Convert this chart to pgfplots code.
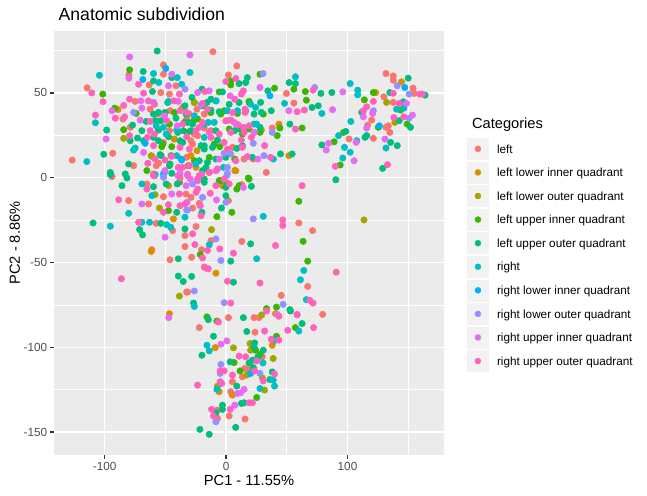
\documentclass[border=0pt]{standalone}
\usepackage{fontspec}
\setmainfont{Liberation Sans}
\usepackage{pgfplots}
\pgfplotsset{compat=1.18}
\definecolor{cA}{HTML}{F8766D}
\definecolor{cB}{HTML}{D89000}
\definecolor{cC}{HTML}{A3A500}
\definecolor{cD}{HTML}{39B600}
\definecolor{cE}{HTML}{00BF7D}
\definecolor{cF}{HTML}{00BFC4}
\definecolor{cG}{HTML}{00B0F6}
\definecolor{cH}{HTML}{9590FF}
\definecolor{cI}{HTML}{E76BF3}
\definecolor{cJ}{HTML}{FF62BC}
\definecolor{ggbg}{HTML}{EBEBEB}
\definecolor{ggkey}{HTML}{F2F2F2}
\definecolor{grey30}{HTML}{4D4D4D}
\definecolor{grey20}{HTML}{333333}
\begin{document}
\begin{tikzpicture}
\path[use as bounding box] (0,0) rectangle (485.25pt,372pt);
\begin{axis}[
  at={(40.5pt,30.75pt)}, anchor=south west,
  scale only axis, width=292.5pt, height=318pt,
  xmin=-141.8, xmax=179.5, ymin=-163.5, ymax=86.5,
  axis background/.style={fill=ggbg},
  axis line style={draw=none},
  tick pos=left, tick align=outside,
  xtick={-100,0,100}, xticklabels={-100,0,100},
  ytick={-150,-100,-50,0,50}, yticklabels={-150,-100,-50,0,50},
  minor xtick={-50,50,150}, minor ytick={-125,-75,-25,25,75},
  grid=both,
  major grid style={white, line width=1.07pt},
  minor grid style={white, line width=0.53pt},
  major tick length=2.75pt, minor tick length=0pt,
  tick style={grey20, line width=1.07pt},
  xticklabel style={font=\fontsize{8.8}{10}\selectfont, text=grey30, inner sep=0pt},
  yticklabel style={font=\fontsize{8.8}{10}\selectfont, text=grey30, inner sep=0pt},
  xticklabel shift=2.2pt, yticklabel shift=2.2pt,
  only marks,
  every axis plot/.append style={mark=*, mark size=2.4pt, mark options={draw=none}},
  legend cell align=left,
  legend style={at={(axis description cs:1.0568,0.7498)}, anchor=north west,
    draw=none, fill=none, inner sep=0pt, outer sep=0pt, row sep=0pt, column sep=5.5pt,
    font=\fontsize{8.8}{10}\selectfont,
    nodes={inner sep=0pt, text height=6.3pt, text depth=0pt}},
  legend image code/.code={
    \fill[white] (-8.64pt,-8.64pt) rectangle (8.64pt,8.64pt);
    \fill[ggkey] (-7.9pt,-7.9pt) rectangle (7.9pt,7.9pt);
    \fill (0pt,0pt) circle (2.2pt);
  },
]
% left
\addplot[color=cA] coordinates {
(-51.6,66.5)(-80.1,60.6)(-114.5,53)(-126.8,10.4)(-93.4,14.4)(-63.4,54.7)(-51.6,61)(-41.3,54.2)(-53.8,50.2)(-46.7,49.3)(-74.9,45)(-62.6,40.4)(-46.2,39.5)(-85,34.6)(-79,29.7)(-32.5,34.6)(-46.7,27.7)(-51.6,20.8)(-32.5,12)(-76.2,7.1)(-55.7,8.5)(-59.8,2.2)
(-10.9,74.3)(8.8,65.9)(1.9,60.6)(-24,40.4)(-30.3,37.5)(-18,29.3)(-12.5,27.7)(-26.2,25.7)(-23.5,24.8)(22.4,11)(38,29.3)(55.8,44)(49.7,49.7)(-29,21.8)
(119.9,34)(116.6,31)(131.7,61.4)(137.7,60)(137.7,57.5)(130,47.7)(154,52.8)(154.9,49.7)(137.7,44.4)(131.7,29.7)(133.6,30.6)(134.9,26.7)(121.3,23.2)(101.3,22.8)
(-94,0.6)(-80.3,-13.5)(-57.7,-26.9)(-44,-31.2)(-61.2,-42.4)(-46.2,-48.4)(-32.5,-67.4)(-33.9,-34.1)(-33.9,-40.6)(-65.3,-3.7)(-51.6,-11.2)(-33.1,-9.6)(-63.9,-15.5)
(33.1,3.1)(12.9,-4.1)(1.9,-13.5)(-22.1,-15.1)(-28.9,-11.6)(-27.6,-17.9)(59.9,-26.7)(71.3,-31.2)(12.9,-37.6)(-12.5,-37.1)(-20.2,-42.5)(-28.4,-46.9)(-24.8,-28.8)(67.2,-64.1)(45.4,-69.4)(-18,-52.7)(-31.7,-67.4)(-13.9,3.1)
(79.5,-80.6)
(-22.1,-88.4)(1.9,-82.5)(23,-82.5)(27.1,-82.5)(23.8,-91.1)(29.8,-105.6)(15.3,-112.5)(18.1,-113.1)(13.4,-117.4)(5.2,-120.3)(3.8,-126.2)(-7.1,-137)(-7.1,-141.9)(2.5,-140.5)(15.6,-142.3)
(-56.3,37.5)(-18,37.5)(-27.6,19.8)(5.2,17.9)(14.8,11)(-57.6,7.1)(-13.9,3.2)
};
\addlegendentry{left}
% left lower inner quadrant
\addplot[color=cB] coordinates {
(-89.1,40.2)(-42.9,22.8)(43.5,31.6)(51.7,13)(-24.8,6.1)(7.1,4.2)(-24,15.9)(123.2,50.2)(144.5,56.5)(-61.7,-43.5)(-46.7,-80.2)(-47.5,-4.7)(-43.4,-24.3)(-3,-4.7)(-8.4,-56.3)(40.7,-80.2)(38,-98.8)(-9,-100.2)(-5.7,-126.2)(5.2,-128.2)
(-42.6,22.8)(-29,13)(8,4.1)
};
\addlegendentry{left lower inner quadrant}
% left lower outer quadrant
\addplot[color=cC] coordinates {
(-84.4,23.2)(-61.2,12.6)(-26.2,44.4)(29,28.1)(132.2,44.4)(139,32.6)(-38.5,-69.8)(-58.5,-10)(-54.9,-17.9)(-12,-30.6)(113.6,-24.9)(29.3,-80.9)(6,-100.3)(19.7,-97.8)(20.2,-101.7)(38.8,-106.6)(29.8,-118)(17,-116.4)(-7.1,-122.9)(31.7,-125.2)
(-35.8,41.4)(-26.2,44.3)(-61.7,13)
};
\addlegendentry{left lower outer quadrant}
% left upper inner quadrant
\addplot[color=cD] coordinates {
(-79.5,63.6)(-101.6,49.3)(-91.8,41)(-74.1,37.9)(-84.4,28.3)(-53,18.3)(-44.8,18.3)(-31.2,7.1)(-65.3,4.2)
(3.8,57.1)(3.8,54.7)(27.9,61)(39.9,52.8)(18.9,45)(30.6,37.5)(9.3,37.9)(-1.6,39.5)(-5.7,50.6)(-26.8,33.6)(-23.5,34.6)(2.5,28.7)(18.9,28.7)(27.9,26.7)(-5.2,18.3)(7.1,11)(44.3,29.3)(42.1,24.8)(62.6,29.3)(55.8,52.2)(65.3,50.8)(66.1,45.7)(-26.2,10)
(121.3,50.2)(113.9,45.9)(125.4,29.7)(143.7,39.9)(149.1,31.6)(96.7,26.7)(89,21.2)(94,7.5)
(-47.5,-19.4)
(18.3,-0.2)(8.8,-6.7)(-4.9,-1.8)(0.6,-3.3)(4.7,-20.4)(-7.6,-23)(59.9,-13.9)(63.4,-37.5)(-21.3,-45.3)(67.2,-49.2)(33.3,-77.2)(41.5,-76.3)
(-15.8,-82.1)(-7.6,-84.5)(57.1,-88.4)(41.5,-93.5)(24.3,-101.7)(27.9,-104.1)(6.6,-109)(11.5,-113.9)(25.2,-129.6)
(18.9,44.3)(-42.6,38.4)(-12.6,38.4)(-4.4,37.5)(-46.7,31.6)(-34.4,32.6)(-31.7,26.7)(13.4,25.7)(-52.2,19.8)(-9.8,19.8)(-45.3,13)(-13.9,12)(-38.5,-2.7)(-5.7,-1.7)(18.9,-0.8)(10.7,-4.7)
};
\addlegendentry{left upper inner quadrant}
% left upper outer quadrant
\addplot[color=cE] coordinates {
(-56.8,74.7)(-68.3,62.6)(-98.4,28.1)(-100.8,13.8)(-59.8,57.1)(-44.8,59)(-60.7,50.8)(-55.7,38.5)(-59.8,37.5)(-33.9,42.4)(-50.3,38.5)(-77.1,31)(-65.8,33.2)(-58.5,33.6)(-53.8,33.6)(-41.3,35.1)(-69.4,27.7)(-55.7,28.1)(-35.3,27.7)(-79,21.8)(-73,23.4)(-68,21.8)(-59.8,23.8)(-55.7,21.8)(-47.5,24.2)(-38,21.8)(-54.4,13.6)(-80.3,8.1)(-46.2,8.1)(-44.8,2.6)(-95.4,1.8)(-83.1,2.2)
(10.7,55.5)(16.1,56.1)(17.5,59)(34.4,51.2)(28.4,44.4)(37.2,39.5)(29,38.5)(23,37.5)(-5.7,38.9)(-12.5,46.3)(-3,50.6)(-19.9,52.2)(-28.1,47.3)(-15.8,44.4)(-12.5,39.8)(-31.7,32.6)(-8.5,27.7)(-29,27.7)(-7.1,22.2)(6.6,27.7)(10.7,28.7)(27.9,29.7)(13.4,18.9)(8.8,17.3)(44.8,14)(54.4,14)(52.5,31.6)(70.8,41.4)(51.9,56.1)(57.1,55.5)(-19.4,4.2)(-15.3,9.1)(-8.5,11)(-20.7,18.9)(-18,16.9)(-11.2,17.9)
(87.1,50.2)(78.1,49.7)(75.9,42.4)(111.7,38.5)(150,58.7)(134.9,50.2)(163.9,48.7)(145.9,44.7)(142.6,33.6)(151.9,29.7)(135.5,20.8)(141,18.9)(114.4,23.8)(115.8,24.8)(98.6,27.3)(78.9,19.3)(128.9,5.5)
(-95.4,3.1)(-81.7,-0.2)(-85.8,-4.7)(-109.6,-26.7)(-71.3,-30.6)(-68.9,-33.7)(-53.8,-26.9)(-39.4,-47.8)(-39.4,-58)(-35.3,-61.2)(-33.9,-30.2)(-59.8,-5.3)(-40.2,-3.7)(-40.7,-20.4)
(20.8,-5.1)(-0.2,-5.7)(-0.2,-10.6)(-3.8,-17.9)(-19.9,-20.4)(-18,-0.8)(20.2,-39)(3.8,-49.2)(6,-61.6)(-28.4,-58.2)(-26.8,-73.9)(52.5,-77.8)
(90.4,-1.2)
(-14.7,-83.7)(14.2,-82.5)(53,-78.6)(62.6,-86)(17,-90.7)(-10.4,-93.5)(-19.9,-104.7)(23.5,-97.4)(23,-99.8)(30.6,-101.7)(26.2,-105.6)(21.6,-107.6)(18.9,-109.2)(3.3,-108.6)(22.4,-111.9)(36.1,-119)(38,-114.5)(8.8,-122.9)(12.6,-133.1)(14.8,-132.7)(-3,-134.1)(-3,-136.6)(-8.4,-138.6)(-21.6,-148.4)(-13.9,-151.3)(7.9,-147.2)
(-48.1,44.3)(-19.4,42.4)(-8.5,45.3)(2.5,43.3)(10.7,44.3)(-33,37.5)(-27.6,31.6)(-39.9,26.7)(-35.8,20.8)(-18,18.8)(-53.5,13)(-22.1,10)(-0.3,12)(21.6,12)(-46.7,7.1)(-16.6,6.1)(-49.4,-3.7)(-18,-2.7)
};
\addlegendentry{left upper outer quadrant}
% right
\addplot[color=cF] coordinates {
(-104.4,60.4)(-107.7,32.4)(-114.8,9.5)(-59.8,61.4)(-55.5,56.1)(-40.2,59)(-36.6,55.1)(-47.5,45)(-51.6,29.7)(-40.7,28.1)(-74.9,17.5)(-76.2,16.3)(-40.7,13)
(-29.8,62)(20.2,43.4)(9.3,39.5)(1.1,39.5)(-8.2,45.3)(-14.7,32.6)(23,31.6)(25.2,31.6)(-18,23.8)(38.9,11)(48.1,43.8)(57.1,59.5)(-2.2,6.1)
(102.2,55.5)(78.9,37.9)(108.4,51.6)(108.4,48.9)(102.7,33.2)(140.4,40.4)(146.4,41)(131.7,17.5)(107.6,21.8)(92.6,24.8)(97.5,17.9)(102.2,15)(96.1,11.6)
(-80.3,-21)(-95.4,-28.6)(-69.4,-26.3)(-63.1,-26.3)(-48.9,-27.7)(-45.6,-29.2)(-69.4,-3.7)(-61.2,-10.6)(-33.9,-23.3)
(30.6,-22.8)(-13.9,-39.6)(25.2,-47.8)(64,-54.7)(61.2,-60.2)(66.1,-71.9)(-26.2,-75.9)
(59.9,-90.4)(40.7,-95.8)(-15.8,-98.8)(-13.9,-102.1)(30.4,-109.2)(38.8,-119.4)(39.9,-122.9)(-7.6,-124.8)(27.9,-124.3)
(24.3,41.4)(-26.2,36.5)(16.1,39.4)(-57.6,30.6)(-18,31.6)(-9.8,32.6)(-49.4,25.7)(-24.9,8.1)(-59,1.2)(-50.8,3.2)
};
\addlegendentry{right}
% right lower inner quadrant
\addplot[color=cG] coordinates {
(-68.6,57.9)(-49.7,64.4)(-66.7,20.3)(-36.6,10.4)(-51.6,2.2)(-58.5,1.8)(36.1,48.3)(126.2,30.6)(147.2,53.2)(20.2,-115.4)(-37.1,11)
};
\addlegendentry{right lower inner quadrant}
% right lower outer quadrant
\addplot[color=cH] coordinates {
(-33.9,52.2)(-76.2,38.5)(-59.8,44.4)(30.4,61.4)(-20.7,43)(-1.6,14.4)(3.8,14)(31.2,13)(22.4,20.3)(38,26.7)(1.1,2.6)(73,53.2)(121.3,39.5)(141,54.2)(150.8,49.3)(150.8,35.1)(-32.5,-19)(-51.6,0.2)(0.6,1.2)(-19.4,-11.6)(-0.2,-14.5)(-31.7,-19)(22.4,-24.3)(-8.4,-36.1)(-4.3,-48.8)(47,-74.7)(-26.2,-66.8)(-1.6,-73.7)(-4.3,-110.1)(-4.9,-115.4)(27.9,-115.4)(-8.4,-143.9)
(1.1,6.1)(-27.6,-3.7)
};
\addlegendentry{right lower outer quadrant}
% right upper inner quadrant
\addplot[color=cI] coordinates {
(-79.5,71.2)(-80.1,58.7)(-44.8,61)(-98.9,22.8)(-47.5,54.2)(-70.2,45.3)(-69.4,41)(-94,39.5)(-39.4,45)(-70.8,34)(-40.2,30.6)(-68,14.9)(-38,2.6)(-50.3,4.2)
(-29.8,72.4)(27.9,53.2)(3.3,48.3)(-13.9,51.2)(-23.5,50.2)(6.6,32.6)(23.5,26.7)(26.2,11)(51.7,39.5)
(96.1,50.6)(87.7,40.1)(120.7,37.9)(113.1,35.9)(115.8,29.3)(148.6,43.8)(153.5,36.9)(130.8,22.8)(107.1,20.8)(84.4,20.3)(82.5,16.3)(105.4,10)
(-50.3,-35.1)(-44.8,-9.6)(-69.4,-15.5)
(14.2,-5.7)(-7.9,-13.1)(-32.2,-14.5)(-23.5,-1.8)(-29.5,-0.8)(-33,-4.7)(-31.7,2.1)
(-47.3,-82.5)
(42.1,-80.6)(-4.3,-98.2)(0.6,-96.2)(-3.5,-121.3)(14.8,-124.8)(12,-126.8)(9.3,-127.2)(7.1,-134.1)
(-50.8,36.5)(8,31.6)(23,26.7)(-5.7,11)(-8.4,4.1)(-39.9,1.2)
};
\addlegendentry{right upper inner quadrant}
% right upper outer quadrant
\addplot[color=cJ] coordinates {
(-110.7,50)(-101.4,44.8)(-107.7,36.9)(-72.1,55.1)(-68,49.8)(-38.5,49.3)(-84.4,42.6)(-79.5,46.3)(-64,45.3)(-42.9,45.3)(-38,39.5)(-32.5,38.5)(-91.3,35.1)(-83.6,35.9)(-62.6,33.2)(-48.9,33.6)(-35.8,31.6)(-79.5,24.8)(-62.6,27.7)(-64.8,23.8)(-32.5,24.2)(-59.8,18.9)(-38,17.9)(-58.5,11.1)(-50.3,10.4)(-44.8,12.6)(-64.5,8.5)(-39.4,6.1)
(8,58.5)(-0.2,56.7)(14.2,51.2)(12.6,49.3)(7.1,46.3)(15.6,38.5)(15.6,40.4)(-17.5,50.8)(-19.4,43.8)(-15.3,40.4)(-19.4,32.6)(-22.1,29.7)(-12.5,23.8)(0.6,33.6)(3.8,34)(9.9,31.2)(14.2,29.7)(20.8,23.8)(14.8,26.7)(12.6,22.2)(1.1,16.9)(17.5,12.4)(36.6,12)(31.7,18.9)(57.1,28.7)(58.5,38.9)(64.5,39.9)(71.6,51.6)(-30.3,7.1)(-13.9,3.2)(-7.1,5.2)(-30.3,16.9)
(121.3,45)(113.1,39.5)(115.8,41.8)(137.7,49.8)(159.5,49.3)(161.7,49.3)(142.6,43.8)(138.2,35.5)(146.4,35.9)(89.9,6.7)(133,7.7)
(-88.5,-13)(-72.1,-26.3)(-86.3,-59.6)(-65.3,-6.7)(-38,-0.2)(-38.5,-9.6)(-47.5,-15.9)(-38,-16.5)(-51.6,-20.4)(-59.8,1.2)(-33.9,-15.5)
(-8.4,-4.7)(-13.1,-9.2)(-21.3,-16.5)(-24.8,-8.6)(-20.7,-22.4)(-23.5,-6.7)(62.6,-4.7)(46.7,-24.9)(46.7,-28.2)(40.7,-40)(6,-44.5)(-5.2,-42)(-15.3,-42.9)(-19.4,-47.3)(-25.7,-39.4)(-27.6,-33.1)(68.9,-72.3)(71.6,-73.9)(27.9,-62.1)(1.1,-61)(-14.7,-53.7)(-16.6,-53.3)(3.8,-73.9)(58.5,-80.6)(-22.1,1.2)(-20.2,2.1)
(90.7,-55.7)
(-6.3,-85.1)(33.4,-78.6)(43.5,-81.7)(58.5,-80.9)(72.1,-88.4)(50.8,-90)(31.7,-90.4)(43.5,-95.8)(37.2,-95.3)(25.2,-108)(10.7,-105.2)(16.1,-105.6)(-4.9,-113.9)(-1.6,-113.9)(23.5,-113.9)(30.6,-119.8)(39.9,-115.8)(5.2,-116.4)(-4.9,-120.3)(-23.5,-122.3)(18.9,-132.7)(21.6,-132.7)(3.3,-136.6)(-12,-136.6)(-10.4,-140.5)
(-59,43.3)(5.2,38.4)(-0.3,33.5)(18.9,30.6)(-59,25.7)(-24.9,27.7)(-13.9,26.7)(-5.7,25.7)(3.8,26.7)(-1.6,20.8)(13.4,17.9)(8,10)(-35.8,6.1)(-31.7,1.2)(-23.5,-0.8)(-1.6,-0.8)(2.5,-3.7)
};
\addlegendentry{right upper outer quadrant}
\end{axis}
\node[anchor=base west, font=\fontsize{13.2}{15}\selectfont] at (40.5pt,356.6pt) {Anatomic subdividion};
\node[anchor=base, font=\fontsize{11}{13}\selectfont] at (186.75pt,7.5pt) {PC1 - 11.55\%};
\node[anchor=base, rotate=90, font=\fontsize{11}{13}\selectfont] at (15pt,189.75pt) {PC2 - 8.86\%};
\node[anchor=base west, font=\fontsize{11}{13}\selectfont] at (350.5pt,275.25pt) {Categories};
\end{tikzpicture}
\end{document}
